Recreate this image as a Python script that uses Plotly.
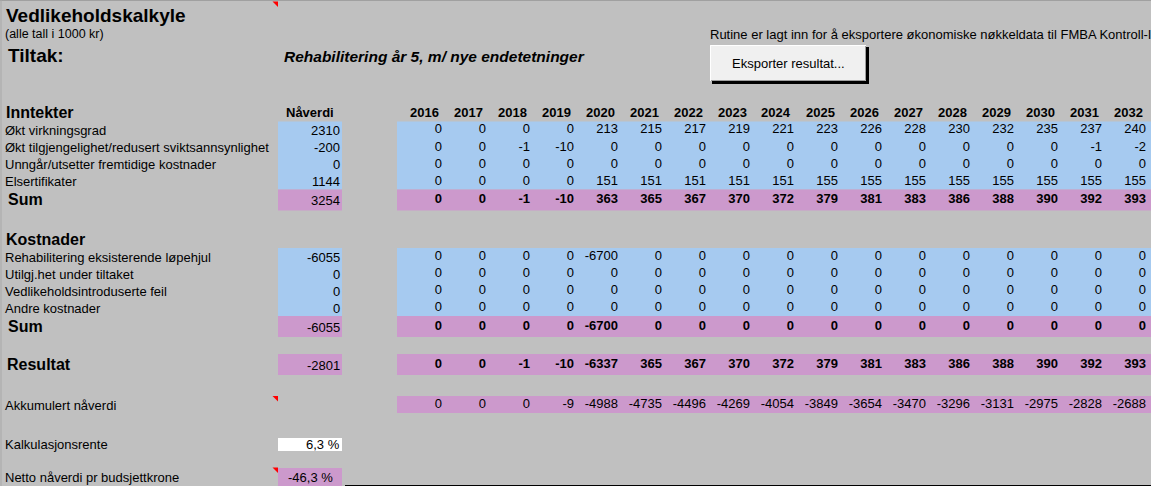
import plotly.graph_objects as go

# ---------------- data ----------------
years = [2016, 2017, 2018, 2019, 2020, 2021, 2022, 2023, 2024,
         2025, 2026, 2027, 2028, 2029, 2030, 2031, 2032]

inntekt_labels = ["Økt virkningsgrad",
                  "Økt tilgjengelighet/redusert sviktsannsynlighet",
                  "Unngår/utsetter fremtidige kostnader",
                  "Elsertifikater"]
inntekt_naverdi = [2310, -200, 0, 1144]
okt_virkningsgrad = [0, 0, 0, 0, 213, 215, 217, 219, 221, 223, 226, 228, 230, 232, 235, 237, 240]
okt_tilgjengelighet = [0, 0, -1, -10, 0, 0, 0, 0, 0, 0, 0, 0, 0, 0, 0, -1, -2]
unngar_kostnader = [0, 0, 0, 0, 0, 0, 0, 0, 0, 0, 0, 0, 0, 0, 0, 0, 0]
elsertifikater = [0, 0, 0, 0, 151, 151, 151, 151, 151, 155, 155, 155, 155, 155, 155, 155, 155]
sum_inntekter_naverdi = 3254
sum_inntekter = [0, 0, -1, -10, 363, 365, 367, 370, 372, 379, 381, 383, 386, 388, 390, 392, 393]

kost_labels = ["Rehabilitering eksisterende løpehjul",
               "Utilgj.het under tiltaket",
               "Vedlikeholdsintroduserte feil",
               "Andre kostnader"]
kost_naverdi = [-6055, 0, 0, 0]
rehabilitering = [0, 0, 0, 0, -6700, 0, 0, 0, 0, 0, 0, 0, 0, 0, 0, 0, 0]
utilgjengelighet = [0, 0, 0, 0, 0, 0, 0, 0, 0, 0, 0, 0, 0, 0, 0, 0, 0]
vedlikeholdsfeil = [0, 0, 0, 0, 0, 0, 0, 0, 0, 0, 0, 0, 0, 0, 0, 0, 0]
andre_kostnader = [0, 0, 0, 0, 0, 0, 0, 0, 0, 0, 0, 0, 0, 0, 0, 0, 0]
sum_kostnader_naverdi = -6055
sum_kostnader = [0, 0, 0, 0, -6700, 0, 0, 0, 0, 0, 0, 0, 0, 0, 0, 0, 0]

resultat_naverdi = -2801
resultat = [0, 0, -1, -10, -6337, 365, 367, 370, 372, 379, 381, 383, 386, 388, 390, 392, 393]
akkumulert = [0, 0, 0, -9, -4988, -4735, -4496, -4269, -4054, -3849, -3654,
              -3470, -3296, -3131, -2975, -2828, -2688]
kalkulasjonsrente = "6,3 %"
netto_per_budsjettkrone = "-46,3 %"

title = "Vedlikeholdskalkyle"
subtitle = "(alle tall i 1000 kr)"
tiltak_label = "Tiltak:"
tiltak_text = "Rehabilitering år 5, m/ nye endetetninger"
rutine_text = "Rutine er lagt inn for å eksportere økonomiske nøkkeldata til FMBA Kontroll-IT"
button_text = "Eksporter resultat..."

# ---------------- layout geometry ----------------
W, H = 1151, 486
BG = "#C0C0C0"
BLUE = "#A6CAF0"
PINK = "#CC99CC"
FONT = "Arial, Liberation Sans, sans-serif"
NAV_X0, NAV_X1 = 278, 342
YEAR_X0, YEAR_W = 397, 44
PAD = 2
TXT_SHIFT = 3  # scatter text sits a few px left of its anchor point


def year_right(i):
    return YEAR_X0 + YEAR_W * (i + 1) - PAD


shapes = []
annotations = []
traces = []


def rect(x0, x1, y0, y1, color, line=None):
    shapes.append(dict(type="rect", xref="x", yref="y", x0=x0, x1=x1, y0=y0, y1=y1,
                       fillcolor=color, line=dict(width=0) if line is None else line,
                       layer="below"))


def text(x, y, s, size=13, bold=False, italic=False, anchor="left", color="black"):
    annotations.append(dict(x=x, y=y, xref="x", yref="y", text=str(s), showarrow=False,
                            xanchor=anchor, yanchor="middle", borderpad=0,
                            font=dict(family=FONT, size=size, color=color,
                                      weight="bold" if bold else "normal",
                                      style="italic" if italic else "normal")))


def number_row(values, y, bold=False):
    traces.append(go.Scatter(
        x=[year_right(i) + TXT_SHIFT for i in range(len(values))], y=[y] * len(values),
        mode="text", text=[str(v) for v in values], textposition="middle left",
        textfont=dict(family=FONT, size=13, color="black",
                      weight="bold" if bold else "normal"),
        hoverinfo="skip", showlegend=False))


# row geometry
inn_top, row_h = 121.5, 17
inn_centers = [130, 147.3, 164.3, 181.5]
sum1 = (189.5, 210.5)
kost_top = 248
kost_centers = [257, 274, 291, 308]
sum2 = (316, 337)
res = (354, 375)
akk = (396, 413)
kalk = (438, 451)
netto = (468, 487)

# cell backgrounds
rect(NAV_X0, NAV_X1, inn_top, inn_top + 4 * row_h, BLUE)
rect(YEAR_X0, W + 5, inn_top, inn_top + 4 * row_h, BLUE)
rect(NAV_X0, NAV_X1, *sum1, PINK)
rect(YEAR_X0, W + 5, *sum1, PINK)
rect(NAV_X0, NAV_X1, kost_top, kost_top + 4 * row_h, BLUE)
rect(YEAR_X0, W + 5, kost_top, kost_top + 4 * row_h, BLUE)
rect(NAV_X0, NAV_X1, *sum2, PINK)
rect(YEAR_X0, W + 5, *sum2, PINK)
rect(NAV_X0, NAV_X1, *res, PINK)
rect(YEAR_X0, W + 5, *res, PINK)
rect(YEAR_X0, W + 5, *akk, PINK)
rect(NAV_X0, NAV_X1, *kalk, "white")
rect(NAV_X0, NAV_X1, *netto, PINK)

# sheet edge lines
shapes.append(dict(type="line", xref="x", yref="y", x0=0, x1=W, y0=0.5, y1=0.5,
                   line=dict(color="#A0A0A0", width=1)))
shapes.append(dict(type="line", xref="x", yref="y", x0=1, x1=1, y0=0, y1=H,
                   line=dict(color="#A8A8A8", width=1)))
shapes.append(dict(type="line", xref="x", yref="y", x0=345, x1=W, y0=485.5, y1=485.5,
                   line=dict(color="black", width=1)))

# comment indicators (red triangles)
for ty in (1.5, 396, 467.5):
    shapes.append(dict(type="path", xref="x", yref="y",
                       path=f"M 272.5 {ty} L 278 {ty} L 278 {ty + 5.5} Z",
                       fillcolor="#FF0000", line=dict(width=0)))

# button
bx0, bx1, by0, by1 = 710, 866, 45, 81
shapes.append(dict(type="rect", xref="x", yref="y", x0=bx0 + 2, x1=bx1 + 3, y0=by0 + 2, y1=by1 + 3,
                   fillcolor="black", line=dict(width=0)))
shapes.append(dict(type="rect", xref="x", yref="y", x0=bx0, x1=bx1, y0=by0, y1=by1,
                   fillcolor="#F0F0F0", line=dict(width=0)))
shapes.append(dict(type="path", xref="x", yref="y",
                   path=f"M {bx0 + 0.5} {by1} L {bx0 + 0.5} {by0 + 0.5} L {bx1} {by0 + 0.5}",
                   line=dict(color="white", width=1)))
shapes.append(dict(type="path", xref="x", yref="y",
                   path=f"M {bx0 + 1} {by1 - 0.5} L {bx1 - 0.5} {by1 - 0.5} L {bx1 - 0.5} {by0 + 1}",
                   line=dict(color="#A0A0A0", width=1)))
text((bx0 + bx1) / 2, 63, button_text, size=13, anchor="center")

# header texts
text(5, 15, title, size=19, bold=True)
text(4, 34, subtitle, size=12.5)
text(7, 55, tiltak_label, size=19, bold=True)
text(283, 56, tiltak_text, size=15.5, bold=True, italic=True)
text(709, 34, rutine_text, size=13)

# Inntekter
text(5, 112, "Inntekter", size=16, bold=True)
text(310, 112, "Nåverdi", size=13, bold=True, anchor="center")
for i, yv in enumerate(years):
    text(year_right(i) + 1, 112, yv, size=13, bold=True, anchor="right")
for lab, nv, yc in zip(inntekt_labels, inntekt_naverdi, inn_centers):
    text(4, yc, lab, size=13)
    text(NAV_X1 - 1, yc, nv, size=13, anchor="right")
for vals, yc in zip([okt_virkningsgrad, okt_tilgjengelighet, unngar_kostnader, elsertifikater],
                    inn_centers):
    number_row(vals, yc)
text(7, 199.5, "Sum", size=16, bold=True)
text(NAV_X1 - 1, 200, sum_inntekter_naverdi, size=13, anchor="right")
number_row(sum_inntekter, 200, bold=True)

# Kostnader
text(5, 239, "Kostnader", size=16, bold=True)
for lab, nv, yc in zip(kost_labels, kost_naverdi, kost_centers):
    text(4, yc, lab, size=13)
    text(NAV_X1 - 1, yc, nv, size=13, anchor="right")
for vals, yc in zip([rehabilitering, utilgjengelighet, vedlikeholdsfeil, andre_kostnader],
                    kost_centers):
    number_row(vals, yc)
text(7, 326, "Sum", size=16, bold=True)
text(NAV_X1 - 1, 327, sum_kostnader_naverdi, size=13, anchor="right")
number_row(sum_kostnader, 327, bold=True)

# Resultat
text(6, 364, "Resultat", size=16, bold=True)
text(NAV_X1 - 1, 365, resultat_naverdi, size=13, anchor="right")
number_row(resultat, 365, bold=True)

# Akkumulert
text(4, 405, "Akkumulert nåverdi", size=13)
number_row(akkumulert, 405)

text(4, 444, "Kalkulasjonsrente", size=13)
text(NAV_X1 - 1, 444.5, kalkulasjonsrente, size=13, anchor="right")
text(4, 477.5, "Netto nåverdi pr budsjettkrone", size=13)
text(NAV_X1 - 8, 477.5, netto_per_budsjettkrone, size=13, anchor="right")

fig = go.Figure(data=traces)
fig.update_layout(
    width=W, height=H, margin=dict(l=0, r=0, t=0, b=0),
    paper_bgcolor=BG, plot_bgcolor=BG,
    xaxis=dict(range=[0, W], visible=False, fixedrange=True),
    yaxis=dict(range=[H, 0], visible=False, fixedrange=True),
    shapes=shapes, annotations=annotations, showlegend=False,
)
fig.write_html("out.html", config={"displayModeBar": False},
               post_script="document.body.style.margin='0';document.body.style.overflow='hidden';")
